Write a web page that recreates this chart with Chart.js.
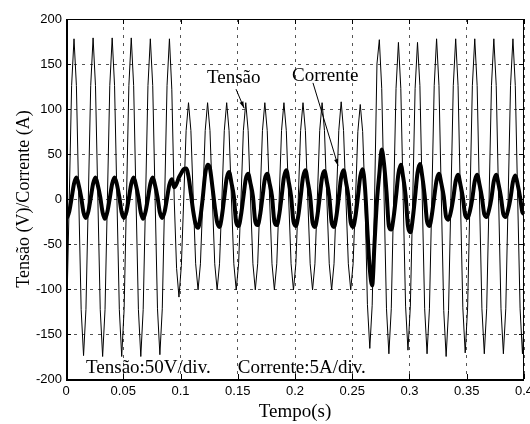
<!DOCTYPE html>
<html>
<head>
<meta charset="utf-8">
<script src="https://cdn.jsdelivr.net/npm/chart.js"></script>
<style>
  html, body { margin: 0; padding: 0; background: #fff; }
  #wrap { width: 530px; height: 424px; }
</style>
</head>
<body>
<div id="wrap"><canvas id="waveChart"></canvas></div>
<script>
// Sampling of both traces (8 samples per 60 Hz cycle)
var sampleStep = 1 / 480;
var sampleStart = -0.00134;

// Tensão (V), one line per cycle
var voltage = [
    -175, -123, 0, 126, 178, 126, 0, -123,
    -174, -123, 0, 126, 179, 126, 0, -123,
    -175, -123, 0, 126, 179, 126, 0, -123,
    -175, -123, 0, 126, 179, 126, 0, -123,
    -175, -123, 0, 126, 178, 126, 0, -122,
    -173, -122, 0, 126, 178, 122, 0, -77,
    -109, -74, 0, 76, 107, 76, 0, -72,
    -101, -72, 0, 76, 107, 76, 0, -72,
    -101, -72, 0, 76, 107, 76, 0, -72,
    -101, -72, 0, 76, 107, 76, 0, -72,
    -101, -72, 0, 76, 107, 76, 0, -72,
    -101, -72, 0, 76, 107, 76, 0, -72,
    -101, -72, 0, 76, 107, 76, 0, -72,
    -101, -72, 0, 76, 107, 76, 0, -72,
    -101, -72, 0, 76, 108, 76, 0, -72,
    -101, -72, 0, 75, 105, 75, 0, -117,
    -166, -118, 0, 150, 177, 123, 0, -122,
    -172, -122, 0, 123, 174, 123, 0, -119,
    -168, -119, 0, 123, 174, 126, 0, -122,
    -172, -122, 0, 126, 178, 126, 0, -124,
    -175, -124, 0, 126, 178, 126, 0, -121,
    -171, -121, 0, 126, 178, 126, 0, -122,
    -172, -122, 0, 126, 178, 126, 0, -122,
    -172, -122, 0, 126, 178, 126, 0, -122,
    -172, -122
];

// Corrente (A), same sampling
var current = [
    -15, -21, -14, 1, 17, 24, 15, 2,
    -15, -21, -14, 1, 17, 24, 15, 2,
    -15, -22, -14, 1, 17, 24, 16, 2,
    -15, -21, -14, 1, 17, 24, 15, 2,
    -15, -22, -14, 1, 17, 24, 15, 2,
    -15, -21, -14, 1, 16, 22, 13, 17,
    24, 29, 33, 34, 25, 6, -14, -28,
    -32, -20, 2, 28, 38, 34, 14, -8,
    -26, -31, -19, 2, 23, 30, 18, 3,
    -26, -30, -18, 2, 22, 28, 17, 3,
    -25, -29, -18, 2, 22, 28, 17, 3,
    -25, -29, -18, 2, 24, 32, 19, 3,
    -25, -30, -19, 2, 24, 32, 19, 3,
    -26, -31, -19, 2, 24, 31, 19, 3,
    -26, -31, -19, 2, 24, 32, 19, 3,
    -26, -31, -19, 2, 25, 33, 12, -35,
    -78, -96, -48, -2, 28, 55, 38, 8,
    -30, -34, -20, 3, 28, 38, 24, 4,
    -30, -37, -22, 3, 29, 39, 25, 4,
    -25, -30, -18, 2, 21, 28, 17, 3,
    -20, -23, -14, 1, 20, 27, 16, 2,
    -18, -21, -13, 1, 20, 27, 16, 2,
    -17, -20, -12, 1, 20, 27, 16, 2,
    -17, -20, -12, 1, 19, 26, 16, 2,
    -15, -17
];

var xTicks = [0, 0.05, 0.1, 0.15, 0.2, 0.25, 0.3, 0.35, 0.4];
var xTickLabels = ['0', '0.05', '0.1', '0.15', '0.2', '0.25', '0.3', '0.35', '0.4'];
var yTicks = [-200, -150, -100, -50, 0, 50, 100, 150, 200];
var yTickLabels = ['-200', '-150', '-100', '-50', '0', '50', '100', '150', '200'];

var toPoints = function(values) {
    return values.map(function(v, i) {
        return {x: sampleStart + i * sampleStep, y: v};
    });
};

var serif = '"Liberation Serif", "Times New Roman", serif';
var sans = '"Liberation Sans", Arial, sans-serif';

var drawArrow = function(ctx, x1, y1, x2, y2) {
    var ang = Math.atan2(y2 - y1, x2 - x1);
    var h = 7;
    ctx.beginPath();
    ctx.moveTo(x1, y1);
    ctx.lineTo(x2, y2);
    ctx.stroke();
    ctx.beginPath();
    ctx.moveTo(x2, y2);
    ctx.lineTo(x2 - h * Math.cos(ang - 0.3), y2 - h * Math.sin(ang - 0.3));
    ctx.lineTo(x2 - h * Math.cos(ang + 0.3), y2 - h * Math.sin(ang + 0.3));
    ctx.closePath();
    ctx.fill();
};

// Matlab style box, inward ticks and the text notes
var boxPlugin = {
    id: 'box',
    afterDraw: function(chart) {
        var ctx = chart.ctx;
        var a = chart.chartArea;
        var sx = chart.scales.x, sy = chart.scales.y;
        var L = Math.round(a.left), R = Math.round(a.right);
        var T = Math.round(a.top), B = Math.round(a.bottom);
        ctx.save();
        ctx.strokeStyle = '#000';
        ctx.fillStyle = '#000';
        ctx.lineWidth = 1;
        ctx.beginPath();
        xTicks.forEach(function(v) {
            var px = Math.round(sx.getPixelForValue(v)) + 0.5;
            ctx.moveTo(px, B); ctx.lineTo(px, B - 5);
            ctx.moveTo(px, T); ctx.lineTo(px, T + 5);
        });
        yTicks.forEach(function(v) {
            var py = Math.round(sy.getPixelForValue(v)) + 0.5;
            ctx.moveTo(L, py); ctx.lineTo(L + 5, py);
            ctx.moveTo(R, py); ctx.lineTo(R - 5, py);
        });
        ctx.stroke();
        ctx.beginPath();
        ctx.moveTo(L, T + 0.5); ctx.lineTo(R, T + 0.5);
        ctx.moveTo(R - 0.5, T); ctx.lineTo(R - 0.5, B);
        ctx.stroke();
        ctx.lineWidth = 2;
        ctx.beginPath();
        ctx.moveTo(L + 1, T); ctx.lineTo(L + 1, B + 1);
        ctx.lineTo(R, B + 1);
        ctx.stroke();

        ctx.font = '19px ' + serif;
        ctx.textBaseline = 'alphabetic';
        ctx.textAlign = 'left';
        var notes = [
            ['Tensão', 0.1231, 129],
            ['Corrente', 0.1974, 131],
            ['Tensão:50V/div.', 0.0175, -193],
            ['Corrente:5A/div.', 0.150, -193]
        ];
        notes.forEach(function(n) {
            ctx.fillText(n[0], sx.getPixelForValue(n[1]), sy.getPixelForValue(n[2]));
        });
        ctx.lineWidth = 1;
        drawArrow(ctx, sx.getPixelForValue(0.1485), sy.getPixelForValue(122),
            sx.getPixelForValue(0.1555), sy.getPixelForValue(101));
        drawArrow(ctx, sx.getPixelForValue(0.2157), sy.getPixelForValue(129),
            sx.getPixelForValue(0.2376), sy.getPixelForValue(37));
        ctx.restore();
    }
};

var ctx = document.getElementById('waveChart');
new Chart(ctx, {
    type: 'line',
    data: {
        datasets: [{
            label: 'Tensão',
            data: toPoints(voltage),
            borderColor: '#000',
            borderWidth: 1,
            pointRadius: 0,
            tension: 0,
            clip: 0
        }, {
            label: 'Corrente',
            data: toPoints(current),
            borderColor: '#000',
            borderWidth: 4,
            pointRadius: 0,
            cubicInterpolationMode: 'monotone',
            clip: 0
        }]
    },
    options: {
        responsive: true,
        maintainAspectRatio: false,
        animation: false,
        devicePixelRatio: 1,
        layout: {
            padding: {left: 0, right: 6, top: 19, bottom: 0}
        },
        scales: {
            x: {
                type: 'linear',
                min: 0,
                max: 0.4,
                afterBuildTicks: function(scale) {
                    scale.ticks = xTicks.map(function(v) { return {value: v}; });
                },
                afterFit: function(scale) {
                    scale.height = 45;
                    scale.paddingLeft = 0;
                    scale.paddingRight = 0;
                },
                ticks: {
                    color: '#000',
                    font: {family: sans, size: 13},
                    padding: 5,
                    maxRotation: 0,
                    autoSkip: false,
                    callback: function(value, index) {
                        return xTickLabels[index];
                    }
                },
                grid: {
                    color: '#555',
                    drawTicks: false
                },
                border: {
                    display: false,
                    dash: [3, 5]
                },
                title: {
                    display: true,
                    text: 'Tempo(s)',
                    color: '#000',
                    font: {family: serif, size: 19},
                    padding: {top: 0, bottom: 1}
                }
            },
            y: {
                type: 'linear',
                min: -200,
                max: 200,
                afterBuildTicks: function(scale) {
                    scale.ticks = yTicks.map(function(v) { return {value: v}; });
                },
                afterFit: function(scale) {
                    scale.width = 66;
                    scale.paddingTop = 0;
                    scale.paddingBottom = 0;
                },
                ticks: {
                    color: '#000',
                    font: {family: sans, size: 13},
                    padding: 4,
                    autoSkip: false,
                    callback: function(value, index) {
                        return yTickLabels[index];
                    }
                },
                grid: {
                    color: '#555',
                    drawTicks: false
                },
                border: {
                    display: false,
                    dash: [3, 5]
                },
                title: {
                    display: true,
                    text: 'Tensão (V)/Corrente (A)',
                    color: '#000',
                    font: {family: serif, size: 18},
                    padding: {top: 13, bottom: 0}
                }
            }
        },
        plugins: {
            legend: {display: false},
            tooltip: {enabled: false}
        }
    },
    plugins: [boxPlugin]
});
</script>
</body>
</html>
